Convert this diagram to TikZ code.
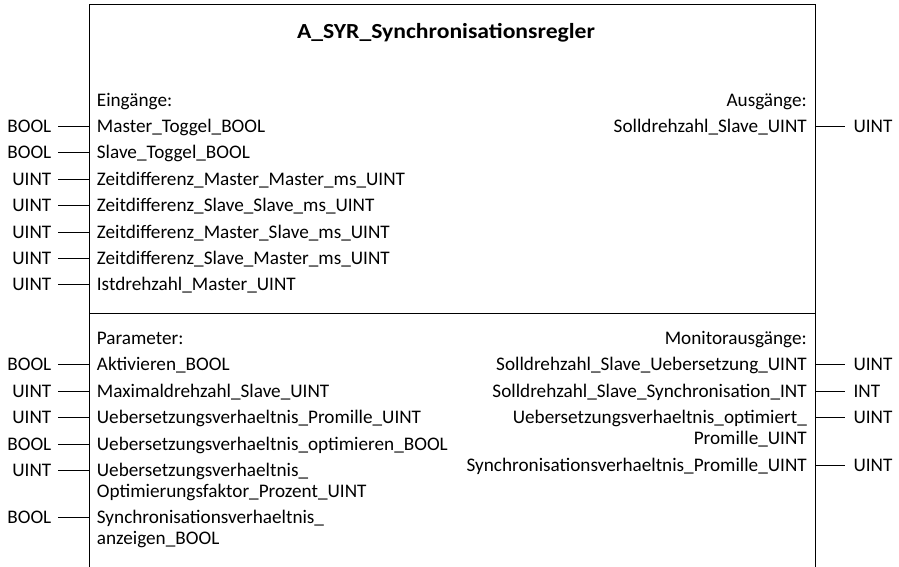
\documentclass[tikz,border=0pt]{standalone}
\usepackage{fontspec}
\setmainfont{Carlito}
\newfontfamily\titlefont[FakeStretch=1.1]{Carlito}
\begin{document}
\begin{tikzpicture}[x=1pt,y=-1pt,
  lbl/.style={inner sep=0pt, font=\fontsize{19.2}{21}\selectfont, text height=12.3pt, text depth=0pt},
  ttl/.style={inner sep=0pt, font=\titlefont\fontsize{21.5}{24}\selectfont\bfseries, text height=13.6pt, text depth=0pt},
  wire/.style={line width=1.5pt},
  frame/.style={line width=1.6pt}]
\useasboundingbox (0,0) rectangle (899,567);

% function block outline (open at the bottom) and section divider
\draw[frame] (89.5,567) -- (89.5,4.5) -- (815.5,4.5) -- (815.5,567);
\draw[frame] (89.5,313.5) -- (815.5,313.5);

\node[ttl] (title) at (446,32) {A\_SYR\_Synchronisationsregler};

% section headings
\node[lbl, anchor=west] (hin)  at (96.7,100)   {Eingänge:};
\node[lbl, anchor=east] (hout) at (807,100)    {Ausgänge:};
\node[lbl, anchor=west] (hpar) at (96.7,338.5) {Parameter:};
\node[lbl, anchor=east] (hmon) at (807,338.5)  {Monitorausgänge:};

% inputs and parameters (left side)
\foreach \n/\y/\t/\txt in {
  i1/126.5/BOOL/Master\_Toggel\_BOOL,
  i2/152.5/BOOL/Slave\_Toggel\_BOOL,
  i3/179.5/UINT/Zeitdifferenz\_Master\_Master\_ms\_UINT,
  i4/205.5/UINT/Zeitdifferenz\_Slave\_Slave\_ms\_UINT,
  i5/232.5/UINT/Zeitdifferenz\_Master\_Slave\_ms\_UINT,
  i6/258.5/UINT/Zeitdifferenz\_Slave\_Master\_ms\_UINT,
  i7/284.5/UINT/Istdrehzahl\_Master\_UINT,
  p1/364.5/BOOL/Aktivieren\_BOOL,
  p2/391.5/UINT/Maximaldrehzahl\_Slave\_UINT,
  p3/417.5/UINT/Uebersetzungsverhaeltnis\_Promille\_UINT,
  p4/444.5/BOOL/Uebersetzungsverhaeltnis\_optimieren\_BOOL,
  p5/470.5/UINT/Uebersetzungsverhaeltnis\_,
  p6/517.5/BOOL/Synchronisationsverhaeltnis\_}
{
  \node[lbl, anchor=east] (t\n) at (51.5,\y) {\t};
  \node[lbl, anchor=west] (\n)  at (96.7,\y) {\txt};
  \draw[wire] ([xshift=6.5pt]t\n.east) -- ([xshift=-7.2pt]\n.west);
}
\node[lbl, anchor=west] (p5b) at (96.7,491.5) {Optimierungsfaktor\_Prozent\_UINT};
\node[lbl, anchor=west] (p6b) at (96.7,538.5) {anzeigen\_BOOL};

% outputs and monitor outputs (right side)
\foreach \n/\y/\t/\txt in {
  o1/126.5/UINT/Solldrehzahl\_Slave\_UINT,
  m1/364.5/UINT/Solldrehzahl\_Slave\_Uebersetzung\_UINT,
  m2/391.5/INT/Solldrehzahl\_Slave\_Synchronisation\_INT,
  m3/417.5/UINT/Uebersetzungsverhaeltnis\_optimiert\_,
  m4/465.5/UINT/Synchronisationsverhaeltnis\_Promille\_UINT}
{
  \node[lbl, anchor=east] (\n)  at (807,\y)   {\txt};
  \node[lbl, anchor=west] (t\n) at (853.3,\y) {\t};
  \draw[wire] ([xshift=8.5pt]\n.east) -- ([xshift=-8.3pt]t\n.west);
}
\node[lbl, anchor=east] (m3b) at (807,438.5) {Promille\_UINT};
\end{tikzpicture}
\end{document}
